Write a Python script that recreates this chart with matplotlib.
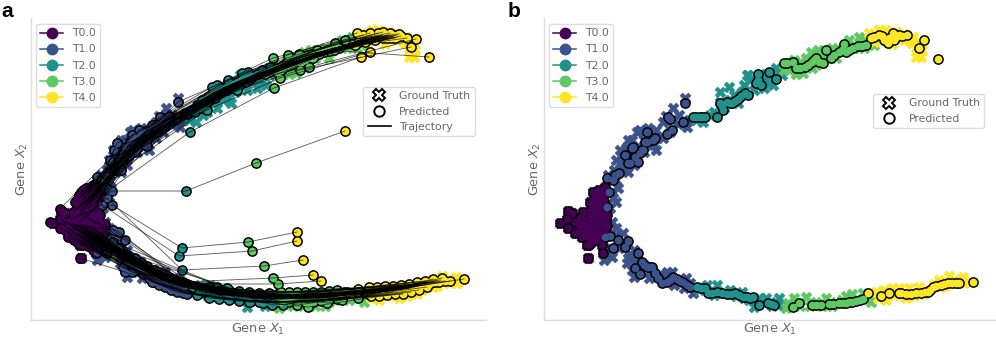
import matplotlib
matplotlib.use("Agg")
import matplotlib.pyplot as plt
from matplotlib.lines import Line2D

W, H = 996, 338
times = ["T0.0", "T1.0", "T2.0", "T3.0", "T4.0"]
colors = ["#440154", "#3b528b", "#21918c", "#5ec962", "#fde725"]

# Ground truth (shared by both panels)
truth_t0 = [(61,133),(55,130),(49,128),(46,118),(24,109),(28,107),(39,108),(48,112),(56,120),(59,113),
            (16,97),(23,101),(24,92),(31,87),(39,95),(49,102),(56,107),(59,98),(61,90),(38,83),(43,75),
            (49,83),(58,75),(59,67),(53,92),(44,93),(36,102),(46,105),(54,115),(51,82),(44,62),(43,87),
            (31,98),(52,98),(50,90),(45,98),(55,100),(52,108),(54,85),(40,88),(47,78)]
truth_t1 = [(141,222),(129,212),(119,198),(143,193),(126,188),(119,182),(93,188),(88,180),(76,170),(76,157),
            (84,148),(74,132),(69,122),(78,165),(110,175),(134,196),(100,180),(90,165),(70,150),(64,145),
            (72,160),(82,172),(96,190),(104,192),(112,190),(122,204),(135,205),(112,170),(100,168),(90,155),
            (80,150),(72,140),(68,128),(66,112),(72,118),(128,200),(84,180),(145,200),(106,180),(92,172),
            (79,87),(68,63),(84,62),(83,57),(90,43),(123,48),(149,27),(146,37),(68,98),(72,85),(90,70),
            (100,55),(115,45),(135,40),(60,60),(75,72),(88,50),(130,35),(72,92),(80,78),(66,72),(92,60),
            (95,48),(108,50),(120,40),(128,48),(140,32),(142,42),(105,42),(86,66)]
truth_t2 = [(176,228),(185,233),(203,245),(206,240),(194,217),(166,205),(159,198),(204,245),(232,252),
            (229,235),(235,248),(210,230),(216,246),(222,240),(198,228),(180,212),(152,200),(170,208),
            (190,225),(200,235),(212,240),(226,245),(220,232),(238,245),(176,218),(186,220),
            (163,35),(173,35),(186,30),(198,28),(235,22),(210,13),(239,15),(222,22),(170,25),(205,20),
            (155,30),(165,28),(180,27),(192,24),(215,22),(228,14),(232,18),(200,22)]
truth_t3 = [(267,268),(252,246),(274,270),(305,280),(315,283),(330,275),(292,262),(259,247),(245,250),
            (285,268),(296,270),(322,280),(262,262),(240,250),(250,260),(268,252),(278,262),(288,272),
            (300,272),(310,272),(320,272),(325,277),(256,258),(272,255),
            (244,17),(262,23),(282,22),(302,24),(319,27),(327,18),(272,18),(250,22),(292,18),(312,20),
            (242,12),(256,14),(266,14),(278,14),(288,14),(298,20),(308,26),(322,22),(330,24)]
truth_t4 = [(325,287),(335,290),(352,288),(369,283),(372,263),(377,263),(372,272),(368,277),(345,285),
            (378,270),(360,286),(332,282),(342,290),(360,280),(330,278),(348,276),(365,280),(375,278),
            (334,22),(332,28),(355,32),(375,33),(395,40),(419,43),(420,37),(400,34),(362,22),(342,20),
            (385,30),(410,40),(350,25),(340,30),(348,32),(365,32),(370,24),(380,26),(390,36),(405,44),
            (412,37),(358,25),(396,33)]

# Panel b predictions
pred_t0 = [(61,133),(55,130),(49,128),(46,118),(24,109),(28,107),(39,108),(48,112),(56,120),(59,113),
           (16,97),(23,101),(24,92),(31,87),(39,95),(49,102),(56,107),(59,98),(61,90),(38,83),(43,75),
           (49,83),(58,75),(59,67),(53,92),(44,93),(36,102),(46,105),(54,115),(51,82),(44,62),(43,87),
           (31,98),(52,98),(50,90),(45,98),(55,100),(52,108),(54,85),(40,88),(47,78),
           (35,95),(40,100),(42,92),(47,88),(50,95),(55,93),(58,85),(53,80),(45,83),(40,93),(35,88),
           (48,97),(53,103),(58,103),(60,108),(55,110),(50,107),(47,110),(52,116),(57,124),(60,125),
           (52,124),(50,120),(60,96),(62,100),(45,75),(63,94),(63,105),(56,115),(60,118)]
pred_t1 = [(141,217),(124,203),(126,201),(139,198),(103,188),(111,182),(103,178),(128,190),(123,186),(89,173),
           (98,170),(81,165),(91,163),(84,157),(94,158),(88,172),(101,178),(109,180),(96,167),(86,157),(99,170),
           (63,142),(71,145),(69,140),(75,147),(65,128),(63,113),(61,83),(66,84),(74,80),(84,79),(69,72),(81,73),
           (94,67),(98,58),(91,52),(96,46),(103,53),(108,53),(111,47),(118,37),(123,38),(129,43),(139,38),(146,33),
           (100,55),(105,53),(114,42),(126,40),(133,41),(143,35),(136,39)]
pred_t2 = [(149,203),(156,203),(161,203),(173,203),(176,217),(183,218),(188,217),(194,221),(201,227),(204,225),
           (214,246),(212,237),(217,235),(225,248),(232,241),(179,210),(186,217),(191,219),(197,224),(178,214),
           (214,240),(152,203),(158,203),
           (153,33),(161,32),(164,27),(173,28),(183,26),(191,27),(199,23),(206,22),(202,23),(209,23),
           (215,15),(224,17),(230,15),(157,32),(168,27),(178,27),(187,26),(195,25),(203,23),(227,16)]
pred_t3 = [(240,257),(249,258),(252,252),(261,253),(268,258),(272,262),(279,257),(282,270),(287,262),(295,268),
           (300,276),(302,268),(309,272),(314,274),(322,275),(243,257),(256,252),(264,255),(270,260),(275,258),
           (290,265),(298,270),(305,270),(318,274),
           (249,13),(255,17),(268,15),(277,15),(289,16),(299,17),(305,18),(312,19),(319,21),(272,15),(295,17),
           (302,17),(308,18),(316,20),(285,16)]
pred_t4 = [(327,282),(335,285),(340,280),(344,277),(349,287),(350,280),(355,285),(363,285),(380,280),(375,272),
           (394,261),(330,283),(338,284),(345,282),(352,283),(358,284),
           (324,27),(337,24),(345,27),(357,27),(367,26),(377,27),(384,28),(389,33),(397,35),(404,37),
           (415,37),(429,38),(355,27),(362,26),(372,27),(381,28),(386,30),(392,34),(400,36),(408,37),(412,37)]

# Panel a trajectories, one position per time for each cell (same index = same cell)
upper_t0 = [(53,133),(46,130),(43,118),(23,111),(50,125),(56,135),(60,128),(48,122),(55,118),(62,120),(40,112),
            (65,115),(36,108),(52,112),(60,122),(58,110),(45,120),(50,115),(55,125),(47,128),(62,130),(52,120),
            (42,125),(57,128),(63,125),(44,115),(49,118),(54,122),(59,115),(38,118),(64,118),(41,105),(46,108),(51,104),
            (45,125),(50,130),(55,128),(60,125),(48,118),(53,116),(58,120),(63,122),(43,110),(47,114),(52,118),(57,112),
            (62,114),(40,120),(44,128),(49,132),(54,126),(59,132),(61,118),(42,122)]
upper_t1 = [(141,218),(123,203),(115,195),(102,190),(95,185),(88,173),(80,177),(73,160),(77,170),(93,178),(110,180),
            (60,143),(68,133),(72,130),(75,129),(84,162),(90,168),(98,175),(105,182),(112,186),(118,192),(128,198),
            (132,204),(88,165),(95,170),(100,172),(106,176),(110,174),(82,158),(86,160),(92,164),(98,168),(78,150),(84,150),
            (96,178),(100,182),(104,184),(108,188),(112,190),(116,192),(120,196),(125,198),(130,202),(94,174),(98,178),(102,180),
            (106,178),(110,182),(114,186),(119,188),(123,192),(127,194),(90,172),(86,166)]
upper_t2 = [(180,235),(175,233),(191,240),(205,247),(211,248),(225,250),(233,253),(211,240),(200,230),(170,210),(176,227),
            (148,207),(155,210),(153,188),(149,129),(160,215),(165,220),(172,224),(180,228),(186,231),(192,234),(198,236),
            (204,240),(150,206),(158,208),(164,212),(170,218),(178,222),(185,228),(190,230),(196,232),(202,234),(208,238),(214,242),
            (165,215),(170,222),(175,226),(180,226),(185,232),(190,234),(195,236),(200,238),(205,240),(210,242),(215,244),(220,246),
            (225,247),(160,212),(166,218),(172,220),(178,224),(184,228),(189,230),(194,233)]
upper_t3 = [(251,265),(236,262),(258,262),(262,266),(280,270),(298,277),(308,280),(272,253),(263,250),(243,242),(252,255),
            (232,248),(238,250),(237,232),(219,157),(240,252),(245,254),(250,258),(255,260),(260,262),(266,264),(270,265),
            (274,266),(228,246),(236,250),(242,252),(248,256),(254,258),(262,258),(268,260),(276,262),(284,268),(290,270),(296,272),
            (240,248),(246,252),(250,254),(255,256),(260,258),(264,260),(268,262),(272,263),(277,264),(282,266),(287,268),(292,269),
            (297,270),(302,272),(244,250),(252,256),(258,258),(264,258),(270,262),(275,262)]
upper_t4 = [(320,287),(326,285),(333,287),(341,287),(346,288),(353,287),(362,286),(379,281),(374,273),(333,268),(338,280),
            (318,275),(328,278),(324,263),(308,189),(322,278),(330,282),(336,283),(342,284),(348,284),(352,285),(356,284),
            (360,283),(316,276),(326,280),(332,281),(340,282),(346,282),(350,282),(344,284),(354,282),(358,282),(392,263),(370,282),
            (322,280),(328,282),(334,284),(340,284),(345,285),(350,285),(355,285),(360,285),(364,284),(335,282),(342,283),(348,283),
            (352,284),(357,284),(326,281),(338,283),(344,284),(350,283),(356,283),(330,282)]

lower_t0 = [(13,98),(40,104),(35,101),(44,100),(48,103),(52,101),(43,62),(23,92),(31,83),(41,77),(30,98),(38,92),(45,88),
            (50,95),(55,92),(60,90),(35,88),(43,84),(48,90),(53,86),(58,84),(63,92),(28,90),(37,80),(46,80),(52,78),(57,76),
            (62,80),(66,86),(68,96),(40,95),(33,95),(25,100),(45,96),(50,88),(55,82),(60,74),(65,78),(42,90),(47,86),
            (30,92),(36,97),(42,96),(47,93),(52,90),(57,88),(62,86),(33,85),(38,85),(44,82),(49,82),(54,80),(59,78),(64,82),
            (68,90),(40,86),(46,90),(51,84),(56,86),(61,82),(35,92),(43,94),(48,84),(53,94),
            (40,90),(45,85),(50,92),(55,88),(60,84),(65,88),(38,95),(43,88),(48,78),(53,76),(58,72),(36,82),(41,80),(46,76),(51,74),(56,70)]
lower_t1 = [(76,90),(75,115),(65,115),(70,122),(82,88),(88,80),(88,48),(86,53),(95,48),(115,38),(138,33),(70,67),(60,68),
            (76,78),(82,72),(90,65),(96,60),(102,57),(108,52),(112,50),(118,46),(122,43),(128,40),(134,38),(140,36),(146,33),
            (100,50),(106,46),(92,58),(98,62),(104,58),(110,54),(116,50),(122,47),(128,44),(134,40),(140,38),(144,36),(120,44),(126,42),
            (90,60),(94,58),(97,55),(101,53),(105,51),(109,49),(113,47),(117,45),(121,42),(125,40),(129,38),(133,36),(137,35),(141,34),
            (103,56),(107,53),(111,50),(115,48),(119,46),(123,44),(127,42),(131,40),(135,38),(139,37),
            (118,50),(122,48),(126,46),(130,44),(134,42),(138,40),(142,38),(146,36),(116,38),(122,35),(128,33),(134,30),(140,28),(146,27),(150,26),(112,42)]
lower_t2 = [(163,30),(145,72),(142,64),(145,50),(146,38),(150,36),(160,25),(163,30),(180,33),(180,23),(190,32),(190,22),(213,18),
            (226,17),(235,15),(246,15),(170,28),(175,26),(185,26),(195,25),(200,24),(205,24),(210,23),(216,22),(222,22),(228,21),
            (165,28),(172,27),(178,26),(184,25),(190,25),(196,24),(204,23),(212,23),(218,22),(224,22),(230,21),(234,21),(238,20),(176,24),
            (168,30),(174,28),(180,27),(186,27),(192,26),(198,25),(204,25),(210,24),(216,24),(222,23),(228,23),(234,22),(240,22),(172,30),
            (178,29),(184,28),(190,27),(196,27),(202,26),(208,25),(214,25),(220,24),(226,24),(232,23),
            (172,33),(182,31),(192,30),(202,29),(212,28),(222,27),(232,27),(240,26),(172,22),(182,21),(192,20),(202,19),(212,18),(222,18),(232,18),(240,18)]
lower_t3 = [(255,25),(211,78),(215,69),(227,54),(236,42),(241,36),(255,25),(263,24),(260,15),(271,13),(290,17),(321,22),(305,20),
            (284,20),(276,18),(270,20),(300,22),(250,22),(258,22),(265,21),(272,22),(280,22),(286,23),(292,23),(298,24),(304,25),
            (244,22),(252,22),(260,21),(268,22),(274,22),(278,23),(284,24),(290,24),(296,25),(302,26),(308,26),(312,27),(316,27),(258,24),
            (242,24),(248,24),(254,23),(260,23),(266,23),(272,23),(278,24),(284,24),(290,25),(296,25),(302,26),(308,27),(314,27),(250,25),
            (256,25),(262,25),(268,25),(274,25),(280,25),(286,26),(292,26),(298,27),(304,27),(310,28),
            (244,28),(252,28),(260,28),(268,28),(276,28),(284,28),(292,29),(300,30),(244,18),(252,18),(260,18),(268,18),(276,18),(284,19),(292,20),(300,21)]
lower_t4 = [(307,28),(260,88),(260,79),(266,60),(276,45),(284,39),(321,31),(336,31),(356,28),(366,27),(386,37),(396,41),(405,42),
            (413,39),(427,41),(380,34),(372,32),(340,28),(346,29),(352,30),(358,30),(362,30),(368,31),(374,32),(378,33),(384,35),
            (330,27),(334,28),(344,28),(350,29),(356,30),(364,31),(370,32),(376,33),(382,34),(388,35),(392,36),(398,38),(402,38),(408,39),
            (332,27),(338,27),(342,29),(348,29),(354,29),(360,30),(366,31),(372,32),(378,34),(384,35),(390,37),(396,38),(400,39),(404,40),
            (336,29),(344,30),(350,31),(356,31),(362,32),(368,33),(374,34),(380,36),(386,37),(392,38),
            (332,33),(340,33),(348,34),(356,34),(364,35),(372,36),(380,38),(388,39),(334,24),(342,24),(350,25),(358,26),(366,26),(374,28),(382,30),(390,33)]


def style(ax, xlim, ylim):
    ax.set_xlim(*xlim)
    ax.set_ylim(*ylim)
    ax.set_xticks([])
    ax.set_yticks([])
    for s in ("top", "right"):
        ax.spines[s].set_visible(False)
    for s in ("left", "bottom"):
        ax.spines[s].set_color("#dddddd")
        ax.spines[s].set_linewidth(1.0)
    ax.set_xlabel("Gene $X_1$", fontsize=9.3, color="#666666", labelpad=1.5)
    ax.set_ylabel("Gene $X_2$", fontsize=9.3, color="#666666", labelpad=0.5)


def draw_points(ax, truth, pred):
    for pts, c in zip(truth, colors):
        ax.scatter(*zip(*pts), marker="X", s=64, color=c, edgecolors=c, linewidths=0.3, zorder=1)
    all_pred = [p for group in pred for p in group]
    ax.scatter(*zip(*all_pred), s=60, color="black", linewidths=0, zorder=2)
    for pts, c in zip(pred, colors):
        ax.scatter(*zip(*pts), s=31, color=c, linewidths=0, zorder=3)


def add_legends(ax, with_traj, loc2):
    time_handles = [Line2D([], [], color=c, marker="o", markersize=7.5, lw=1.1, label=t)
                    for t, c in zip(times, colors)]
    leg1 = ax.legend(handles=time_handles, loc="upper left", bbox_to_anchor=(0.012, 0.98),
                     borderaxespad=0, fontsize=7.8, labelcolor="#666666", labelspacing=0.56,
                     handlelength=2.1, handletextpad=0.8, borderpad=0.4, framealpha=1, edgecolor="#dddddd")
    ax.add_artist(leg1)
    handles = [Line2D([], [], color="none", marker="X", markersize=8, markerfacecolor="white",
                      markeredgecolor="black", markeredgewidth=1.4, label="Ground Truth"),
               Line2D([], [], color="none", marker="o", markersize=7.5, markerfacecolor="white",
                      markeredgecolor="black", markeredgewidth=1.4, label="Predicted")]
    if with_traj:
        handles.append(Line2D([], [], color="black", lw=1.2, label="Trajectory"))
    ax.legend(handles=handles, loc="upper left", bbox_to_anchor=loc2, borderaxespad=0, fontsize=7.8,
              labelcolor="#666666", labelspacing=0.5, handlelength=2.1, handletextpad=0.8, borderpad=0.4,
              framealpha=1, edgecolor="#dddddd")


fig = plt.figure(figsize=(W / 100, H / 100), dpi=100)


def axes_px(left, right, top, bottom):
    return fig.add_axes([left / W, 1 - bottom / H, (right - left) / W, (bottom - top) / H])


truth = [truth_t0, truth_t1, truth_t2, truth_t3, truth_t4]

# Panel a
ax_a = axes_px(30.5, 486, 18, 320)
style(ax_a, (-6.5, 449), (0, 302))
traj = [upper_t0 + lower_t0, upper_t1 + lower_t1, upper_t2 + lower_t2, upper_t3 + lower_t3, upper_t4 + lower_t4]
draw_points(ax_a, truth, [pred_t0 + traj[0]] + traj[1:])
for cell in zip(*traj):
    ax_a.plot(*zip(*cell), color="black", lw=0.65, alpha=0.62, zorder=4)
add_legends(ax_a, True, (0.731, 0.772))

# Panel b
ax_b = axes_px(543.5, 996, 18, 320)
style(ax_b, (0, 452.5), (0, 302))
draw_points(ax_b, truth, [pred_t0, pred_t1, pred_t2, pred_t3, pred_t4])
add_legends(ax_b, False, (0.729, 0.748))

fig.text(1 / W, 1 - 17 / H, "a", fontsize=15, fontweight="bold", family="Liberation Sans", color="black")
fig.text(508 / W, 1 - 17 / H, "b", fontsize=15, fontweight="bold", family="Liberation Sans", color="black")

fig.savefig("out.png", dpi=100)
